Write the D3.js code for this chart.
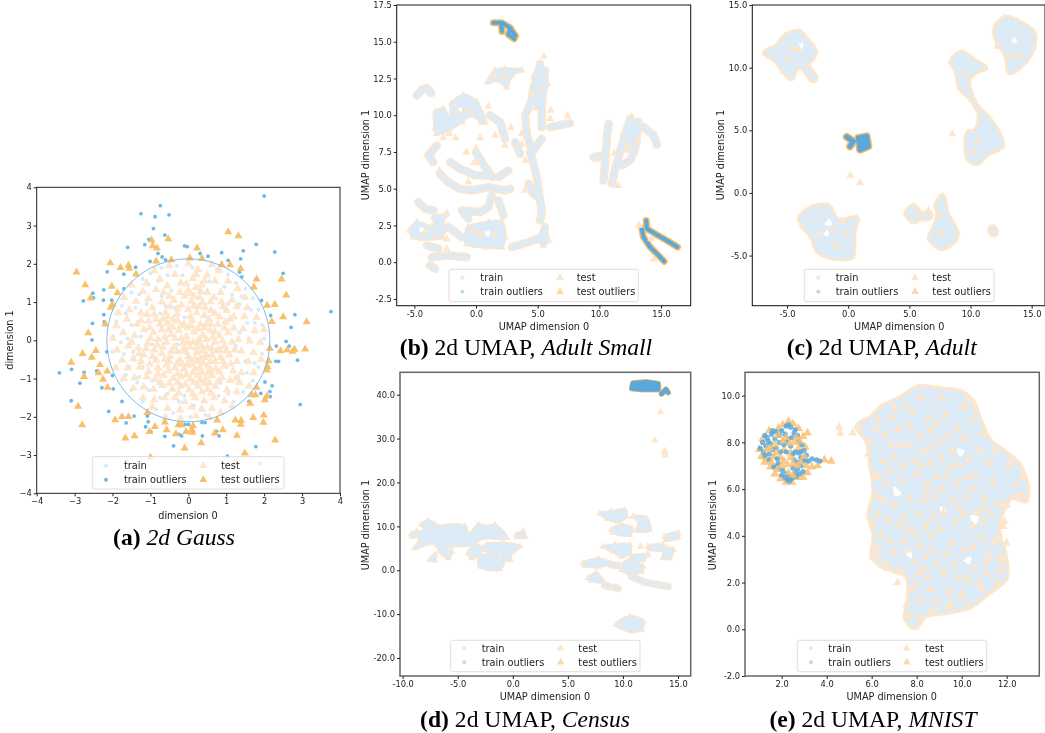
<!DOCTYPE html>
<html>
<head>
<meta charset="utf-8">
<script src="https://cdn.jsdelivr.net/npm/d3@7"></script>
<style>
body { margin: 0; background: #fff; }
text { font-family: "DejaVu Sans", sans-serif; fill: #222; }
.caption { font-family: "Liberation Serif", serif; font-size: 23.6px; fill: #000; }
</style>
</head>
<body>
<svg id="fig" width="1045" height="733"></svg>
<script>
// all values below.
// the dense umap clouds hold too many points to read one by one, so their cores are
// kept as outlines (blobs, strands, gaps) and only the visible single points are listed.
var legendLabels = ["train", "train outliers", "test", "test outliers"];

var gaussRadius = 2.15;
var gaussTrainOutliers = [[2,3.77],[-0.74,3.52],[-1.25,3.31],[-0.88,3.23],[-0.51,3.28],[-0.92,2.92],[-0.62,2.75],[-1.04,2.64],[-1.15,2.5],[-1.6,2.43],[-0.8,2.27],[-0.69,2.18],[-0.6,2.1],[-0.1,2.47],[-0.03,2.45],[0.31,2.27],[0.52,2.2],[0.88,2.29],[1.05,2.09],[1.38,2.13],[1.45,2.34],[1.79,2.51],[2.28,2.31],[2.5,1.75],[1.35,1.78],[1.41,1.66],[-2.14,1.79],[-1.7,1.73],[-1.39,1.91],[-1.01,2.06],[-2.23,1.32],[-2.52,1.23],[-2.5,1.11],[-2.77,1.03],[-2.24,1.05],[-2.02,1.05],[-1.7,1.35],[-2.23,0.67],[-2.22,0.48],[-2.53,0.44],[-2.54,0.01],[-2.15,-0.3],[3.76,0.75],[2.81,0.67],[2.71,0.34],[2.17,0.65],[1.93,1.04],[2.58,-0.03],[2.66,-0.15],[2.32,-0.15],[2.88,-0.52],[2.31,-0.55],[2.38,-0.55],[2.95,-1.68],[-3.4,-0.85],[-3.08,-0.76],[-2.75,-0.84],[-2.86,-1.12],[-2.42,-0.8],[-2.28,-1.24],[-1.98,-1.27],[-2,-0.92],[-3.09,-1.58],[-1.75,-1.6],[-2.1,-1.86],[-1.43,-1.98],[-1.64,-2.16],[-1.13,-2.26],[-1.06,-2.13],[-1.08,-1.98],[-0.99,-2.39],[-0.62,-2.51],[-0.25,-2.46],[-0.18,-2.5],[-0.39,-2.76],[0.37,-2.5],[0.36,-2.15],[0.44,-2.15],[0.74,-2.38],[0.81,-2.5],[-0.09,-2.2],[0,-2.2],[1.78,-2.78],[1.03,-3.03],[1.89,-3.22],[-1.63,-3.15],[2.02,-1.52],[2.16,-1.47],[1.91,-1.39],[2.15,-1.34],[2.21,-1.19],[2.02,-1.09],[1.6,-1.6]];
var gaussTestOutliers = [[1.05,2.83],[1.32,2.73],[-0.97,2.62],[-0.53,2.65],[-0.94,2.47],[-0.83,2.41],[0.23,2.41],[-0.85,2.07],[-0.45,2.1],[0.04,2.15],[0.36,2.14],[0.88,1.98],[1.1,1.97],[1.38,1.87],[1.8,1.6],[1.73,1.39],[2.46,1.6],[2.58,1.18],[2.08,0.91],[2.28,0.93],[2.5,0.61],[2.2,0.49],[3.12,0.48],[3.08,-0.23],[2.8,-0.24],[2.75,-0.29],[2.61,-0.25],[2.43,-0.28],[2.15,-0.21],[2.12,-0.54],[2.09,-0.69],[2.07,-0.78],[1.8,-1.23],[1.67,-1.43],[1.77,-1.43],[2.07,-1.46],[2.02,-1.56],[1.63,-1.65],[1.71,-2.02],[1.99,-1.96],[1.98,-2.15],[1.24,-2.09],[1.39,-2.1],[1.38,-2.2],[0.76,-2.09],[0.91,-2.34],[0.7,-2.43],[1.28,-2.49],[2.29,-2.61],[1.49,-2.95],[0.34,-2.68],[-0.1,-2.82],[0.12,-2.23],[0.09,-2.34],[0.11,-2.41],[-0.06,-2.39],[-0.26,-2.21],[-0.18,-2.21],[-0.57,-2.34],[-0.62,-2.14],[-0.33,-2.45],[-0.88,-2.26],[-1.03,-2.39],[-1.08,-1.89],[-1.42,-2.5],[-1.66,-2.56],[-1.93,-2.08],[-1.75,-2],[-1.58,-2],[-2.8,-2.21],[-2.91,-1.73],[-2.13,-1.23],[-2.25,-1.02],[-2.37,-0.85],[-2.14,-0.81],[-2.33,-0.64],[-2.75,-0.95],[-3.09,-0.58],[-2.79,-0.35],[-2.55,-0.45],[-2.44,-0.27],[-2.64,0.19],[-2.19,0.42],[-2.05,0.86],[-2,0.93],[-1.87,1.24],[-2.58,1.1],[-2.72,1.45],[-2.02,1.41],[-2.95,1.78],[-2.06,2.02],[-1.79,1.9],[-1.58,1.96],[-1.56,1.88],[-1.38,1.73],[-1,-3.06],[1.23,-3.19]];
var gaussTrain = [[-1.2,1.6],[-1,1.75],[-0.7,1.9],[-0.3,1.95],[0.1,1.9],[0.75,1.85],[1.05,1.72],[1.25,1.5],[1.5,1.35],[1.7,1.1],[1.85,0.8],[1.95,0.4],[2,0.05],[1.95,-0.35],[1.85,-0.7],[1.7,-1.05],[1.45,-1.35],[1.2,-1.6],[0.85,-1.85],[0.45,-1.95],[0.05,-2],[-0.4,-1.9],[-0.85,-1.8],[-1.2,-1.6],[-1.5,-1.3],[-1.75,-1.05],[-1.9,-0.7],[-2,-0.3],[-1.98,0.1],[-1.9,0.5],[-1.75,0.9],[-1.5,1.25],[-1.3,1.2],[-1.05,1.45],[-0.7,1.15],[-0.45,1.3],[-0.6,0.9],[-1.5,0.4],[-1.6,0.05],[-1.45,-0.3],[-1.2,-0.7],[-0.75,0.7],[-0.35,0.85],[-0.1,0.6],[-0.25,-0.3],[-0.05,-0.35],[-0.3,-0.1],[1.55,0.45],[1.6,0.05],[1.5,-0.55],[1.55,-0.85],[0.85,-1.1],[0.8,-1.45],[-0.55,-1.4],[-0.25,-1.6],[1.15,1.2],[0.95,1.4],[1.35,0.95],[-1.35,-1.1],[-1.05,-1.3],[1.25,-0.15],[1.35,0.2],[-1.25,0.1],[-0.95,-0.1],[0.55,1.55],[-1.65,0.7],[-1.4,0.85],[-1.1,0.95],[-1.78,-0.05],[-1.7,-0.35],[-1.55,-0.7],[-1.3,-0.95],[-0.95,-1.05],[-0.75,-1.5],[-0.1,-1.45],[0.15,-1.7],[1.05,-1.4],[1.3,-0.95],[1.75,-0.6],[1.75,0.45],[1.65,0.8],[1.05,0.95],[-0.8,1.55],[-0.55,1.7],[-1.65,-0.9],[1.4,1.15],[-0.15,1.7]];
var gaussTest = [[-0.5,1.95],[0,2],[0.25,1.85],[0.62,1.98],[0.82,1.82],[-0.9,1.82],[-0.35,1.72],[0.12,1.62],[0.5,1.7],[-1.1,1.5],[-0.75,1.6],[-0.2,1.5],[0.35,1.45],[0.7,1.55],[1.05,1.55],[1.3,1.35],[-1.5,1.45],[-1.2,1.28],[-0.85,1.32],[-0.55,1.42],[0,1.3],[0.2,1.38],[0.5,1.25],[0.85,1.25],[1.15,1.05],[1.5,1.12],[-1.7,1.12],[-1.38,1.02],[-1.05,1.08],[-0.7,1],[-0.38,1.05],[-0.1,1.15],[0.08,1.02],[0.3,1.12],[0.58,1],[0.88,1],[1.28,0.88],[1.55,0.85],[-1.85,0.72],[-1.55,0.8],[-1.25,0.72],[-0.95,0.85],[-0.6,0.72],[-0.3,0.68],[0,0.8],[0.22,0.72],[0.45,0.85],[0.7,0.7],[1,0.78],[1.2,0.62],[1.48,0.62],[1.8,0.6],[-1.9,0.38],[-1.62,0.55],[-1.35,0.42],[-1.05,0.5],[-0.85,0.55],[-0.55,0.45],[-0.4,0.55],[-0.12,0.42],[0.1,0.52],[0.32,0.42],[0.55,0.55],[0.78,0.42],[0.98,0.48],[1.2,0.32],[1.45,0.3],[1.75,0.25],[2,0.28],[-2,0.05],[-1.72,0.2],[-1.42,0.12],[-1.18,0.28],[-0.92,0.2],[-0.7,0.28],[-0.45,0.15],[-0.25,0.25],[-0.05,0.1],[0.15,0.22],[0.38,0.12],[0.58,0.25],[0.82,0.12],[1.05,0.2],[1.32,0.02],[1.62,-0.02],[1.9,-0.05],[-1.88,-0.25],[-1.58,-0.15],[-1.32,-0.2],[-1.08,-0.08],[-0.82,-0.12],[-0.58,-0.05],[-0.38,-0.18],[-0.15,-0.08],[0.05,-0.18],[0.28,-0.05],[0.5,-0.18],[0.7,-0.05],[0.95,-0.15],[1.15,-0.05],[1.4,-0.28],[1.72,-0.32],[-1.75,-0.52],[-1.45,-0.48],[-1.18,-0.38],[-0.95,-0.42],[-0.7,-0.35],[-0.48,-0.42],[-0.22,-0.52],[0,-0.42],[0.22,-0.32],[0.42,-0.45],[0.62,-0.38],[0.85,-0.45],[1.08,-0.38],[1.28,-0.55],[1.58,-0.55],[1.92,-0.5],[-1.92,-0.72],[-1.6,-0.72],[-1.28,-0.7],[-1.02,-0.62],[-0.8,-0.72],[-0.58,-0.65],[-0.35,-0.72],[-0.12,-0.75],[0.1,-0.62],[0.3,-0.72],[0.52,-0.68],[0.72,-0.75],[0.95,-0.68],[1.18,-0.8],[1.4,-0.85],[1.72,-0.85],[-1.7,-1],[-1.42,-0.98],[-1.1,-0.95],[-0.88,-1.02],[-0.65,-0.92],[-0.4,-1],[-0.18,-0.95],[0.05,-1.02],[0.25,-0.92],[0.45,-1],[0.62,-0.92],[0.88,-0.98],[1.1,-1.05],[1.35,-1.1],[1.6,-1.2],[-1.45,-1.25],[-1.18,-1.22],[-0.92,-1.28],[-0.68,-1.18],[-0.42,-1.28],[-0.2,-1.2],[0.02,-1.3],[0.25,-1.2],[0.5,-1.28],[0.72,-1.2],[1.02,-1.3],[1.28,-1.35],[-1.2,-1.5],[-0.9,-1.55],[-0.62,-1.5],[-0.35,-1.5],[-0.1,-1.6],[0.18,-1.5],[0.42,-1.58],[0.68,-1.5],[0.95,-1.58],[1.15,-1.72],[-0.95,-1.75],[-0.55,-1.78],[-0.22,-1.82],[0.08,-1.75],[0.35,-1.8],[0.62,-1.78],[0.85,-1.9],[-0.6,-2.02],[-0.2,-2.05],[0.2,-1.98],[0.55,-2.02],[-0.2,0.38],[0.25,0.3],[0.05,0.62],[-0.28,0.82],[0.15,0.9],[0.42,0.65],[-0.08,-0.28],[0.18,-0.48],[0.38,-0.28],[0.58,-0.55],[-0.3,-0.3],[0.12,-0.85],[0.35,-0.85],[0.52,-0.85],[-0.15,-0.62],[0.05,-0.5],[0.28,0.02],[0.48,0.02],[-0.02,0.32],[0.7,0.22],[-0.55,0.62],[-0.75,0.42],[-0.62,0.08],[0.62,-0.22],[0.82,-0.25],[0.42,-1.12],[0.15,-1.1],[-0.5,-0.55],[-0.42,0.35],[0.05,1.22],[0.32,1.28],[0.38,0.98],[-0.25,-1.38],[-1.1,0.68],[-0.9,0.68],[-0.48,0.88],[-0.18,0.92],[0.28,0.88],[0.6,0.78],[0.82,0.62],[-1.25,0.52],[-0.68,0.55],[-0.28,0.5],[0.48,0.42],[0.95,0.32],[-1,0.05],[-0.8,0.02],[-0.52,0.28],[-0.18,0.05],[0.08,0.38],[0.42,0.32],[0.65,0.08],[0.9,-0.02],[-1.12,-0.22],[-0.9,-0.25],[-0.68,-0.18],[-0.45,-0.28],[-0.12,-0.22],[0.12,-0.05],[0.35,-0.15],[0.75,-0.28],[1,-0.28],[-1.05,-0.82],[-0.85,-0.52],[-0.62,-0.5],[-0.3,-0.6],[-0.02,-0.65],[0.25,-0.55],[0.48,-0.38],[0.7,-0.55],[0.92,-0.55],[-0.8,-0.88],[-0.52,-0.8],[-0.28,-0.88],[-0.05,-0.9],[0.18,-0.75],[0.4,-0.6],[0.6,-0.78],[0.82,-0.82],[-0.75,-1.1],[-0.5,-1.12],[-0.28,-1.1],[-0.08,-1.15],[0.3,-1.05],[0.55,-1.12],[0.78,-1.08],[0.12,-1.4],[0.35,-1.35],[0.6,-1.38],[-0.5,1.15],[-0.22,1.25],[0.15,1.15],[0.68,1.12],[0.42,1.55],[0.2,1.72],[-0.05,1.48],[-0.65,1.25],[0.92,0.88],[1.1,0.55],[-1.02,0.32],[-1.5,-0.05],[-1.25,-0.55],[1.22,-0.25],[1.25,-1],[-1.3,-0.35],[1.12,-0.62],[-0.35,0.05],[0.6,0.42],[0.22,-0.2],[0.32,-0.48],[-0.02,-0.05]];

var adultSmallBlobs = [[[0.95,12.25],[1.54,13.05],[2.35,13.16],[3.71,13.05],[2.9,12.71],[2.49,11.91],[1.81,12.37]],[[4.65,12.6],[5.19,13.5],[5.6,13.05],[5.8,12.14],[5.46,11],[5.33,10.3],[4.9,10.5],[4.75,11.5]],[[-3.32,9.08],[-3.32,10.21],[-2.65,10.44],[-2.1,9.76],[-1.97,10.78],[-1.02,11.35],[0.06,10.89],[0.73,9.53],[0.46,9.53],[-0.35,9.99],[-1.16,9.53],[-2.24,8.96],[-3.19,8.74]],[[-5.35,2.16],[-4.81,2.73],[-3.59,2.39],[-2.51,2.39],[-2.78,1.7],[-4.4,1.59],[-5.08,1.7]],[[-3.46,3.07],[-2.51,3.18],[-3.05,2.27]],[[-0.62,2.39],[1,2.73],[2.08,2.73],[2.35,1.7],[2.08,1.03],[0.73,1.03],[-0.75,1.25],[-0.89,1.82]],[[5.06,1.48],[5.6,2.16],[5.87,1.48],[5.46,1.14]],[[11.95,8.85],[12.63,9.88],[12.9,8.63],[12.22,7.61]]];
var adultSmallStrands = [[[-4.81,11.35],[-4.4,11.73],[-3.99,11.87],[-3.65,11.5]],[[1.14,9.99],[1.95,9.53],[2.35,8.4]],[[5.19,13.5],[5.06,12.6],[4.65,11.91],[4.52,11],[3.98,9.99],[4.11,8.74],[4.38,7.94]],[[5.6,13.05],[5.46,12.14],[5.33,10.55],[5.33,9.19]],[[5.33,8.4],[4.65,7.6]],[[3.17,8.17],[3.57,7.38]],[[4.38,7.49],[4.65,6.7],[4.92,5.79],[5.19,4.2],[5.33,3.52],[5.19,2.84]],[[4.25,5.33],[4.65,4.65],[5.19,4.3]],[[6,9.19],[7.62,9.46]],[[-3.19,7.94],[-3.86,7.26],[-3.46,6.81]],[[-2.1,6.81],[-1.3,6.36],[-0.08,5.9],[1,5.9]],[[0,7.49],[0.73,6.47],[1.33,5.79]],[[-2.92,6],[-2.24,5.45],[-1.3,4.99],[-0.35,4.88],[1,5.11],[2.35,4.88],[2.76,4.99]],[[1.81,5.79],[2.62,6.24]],[[1.27,4.54],[1,3.75],[0.33,3.41],[-1.16,3.52],[-0.62,2.95]],[[1.81,4.2],[2.22,3.18]],[[-4.67,4.09],[-4.13,3.63],[-3.46,3.52]],[[-2.24,2.39],[-1.16,1.7]],[[2.9,1.03],[4.25,1.36],[5.33,1.7],[5.6,2.39]],[[-3.98,1.14],[-3.05,0.91]],[[-3.59,0.34],[-2.24,0.46],[-0.75,0.34]],[[-3.73,-0.22],[-3.32,-0.45]],[[10.74,9.42],[10.6,8.4],[10.47,6.81],[10.33,5.56]],[[12.49,9.76],[11.82,7.95],[11.28,6.36],[11,5.34]],[[13.17,9.54],[12.9,7.72],[12.49,6.93],[11.82,6.59]],[[13.57,9.2],[14.39,8.63],[14.66,7.99]],[[9.52,7.15],[10.2,7.27]]];
var adultSmallGaps = [[[-4.6,2.3],[-4.25,2.3],[-4.35,2.0]],[[0.7,2.0],[1.1,2.1],[1,1.75]],[[-1.45,10.45],[-1.15,10.45],[-1.3,10.15]]];
var adultSmallOutlierBands = [[[13.79,2.84],[13.84,2.27],[14.52,1.93],[15.47,1.48],[16.33,1.03]],[[13.44,2.27],[13.57,1.71],[14.11,1.03],[14.79,0.46],[15.25,0.05]],[[1.4,16.3],[2.1,16.3],[2.75,15.95],[3.2,15.4]],[[2.05,16.2],[2.1,15.7]],[[2.8,15.9],[2.6,15.5],[3.1,15.2]]];
var adultSmallTest = [[1,10.6],[6.06,10.33],[7.42,9.96],[6,9.76],[2.84,9.15],[3.71,8.74],[0.33,8.46],[1.54,8.62],[-2.65,8.46],[-2.19,8.74],[-1.65,8.46],[-0.75,7.49],[0,7.76],[-0.16,6.76],[2.35,7.94],[3.71,8.01],[3.98,6.92],[-2.97,6.24],[-0.8,7.49],[3.98,4.88],[-0.08,6.81],[-0.62,5.45],[-2.38,3.34],[-2.38,1.59],[-2.38,0.91],[5.5,14],[4.5,11.4],[5.1,11.7],[-1.5,10.2],[-0.6,10.3],[1.5,12.7],[2.2,12.6],[9.85,7],[11.5,5.2],[12.3,8],[13.1,8.3],[11.2,7.4],[14.4,0.2],[13.2,2.5],[14.2,1.6],[0.3,1.9],[1.5,1.8],[-0.2,2.2],[-4.1,2.1],[-3.2,1.85]];

var adultBlobs = [[[-6.8,11.18],[-5.85,11.71],[-5.16,12.51],[-3.94,12.85],[-3.53,12.37],[-2.71,11.31],[-3.26,10.38],[-4.21,9.98],[-4.62,9.18],[-5.3,9.71],[-5.98,10.65]],[[12,13.04],[12.82,13.97],[13.77,13.7],[15.14,12.78],[15.14,11.71],[14.46,10.5],[13.23,9.63],[12.96,10.9],[12.28,11.98]],[[8.46,10.5],[9.28,11.18],[10.37,10.5],[11.19,9.98],[10.5,9.71],[9.82,9.05],[9.96,8.11],[10.5,6.92],[11.46,5.98],[12.41,4.52],[12.55,3.72],[11.46,3.19],[10.5,2.39],[9.82,2.79],[9.82,4.79],[10.37,4.92],[10.78,6.12],[10.1,7.45],[9.14,8.38],[8.87,9.71]],[[-3.94,-2],[-2.98,-1.2],[-1.62,-1.07],[-0.94,-2.14],[0.01,-2.14],[0.69,-2],[0.42,-3.2],[0.29,-5.07],[-0.94,-5.2],[-2.44,-4.67],[-2.98,-3.47],[-3.66,-2.67]],[[4.78,-1.61],[5.33,-1.07],[5.87,-1.87],[5.33,-2.27]],[[7.23,-0.94],[7.7,-0.27],[8.05,-1.61],[8.87,-3.2],[8.73,-3.74],[7.64,-4.4],[6.69,-3.6],[7.1,-2.67],[7.37,-1.61]]];
var adultStrands = [[[-3.53,10.1],[-2.85,9.18]],[[5.87,-1.87],[6.55,-1.82]],[[11.81,-2.94],[11.9,-3.1]]];
var adultGaps = [[[-4,11.9],[-3.7,11.9],[-3.8,11.5]],[[13.4,12.1],[13.6,12.4],[13.75,12]],[[-1.9,-2.5],[-1.5,-2.1],[-1.4,-2.6]],[[-2,-3.3],[-1.7,-3],[-1.6,-3.4]]];
var adultOutlierBands = [[[0.83,4.39],[1.51,4.52],[1.65,3.72],[0.97,3.45],[0.83,4.39],[1.3,4]],[[-0.12,4.47],[0.42,4.12],[0.15,3.72]],[[0.95,3.9],[1.5,4.1]],[[1.05,4.3],[1.5,3.8]]];
var adultTest = [[8.5,4.7],[0.18,1.4],[0.97,0.8],[6.55,-1.4],[12.2,11.7],[-2.3,-3.3],[-4.6,11.5],[-4,11.4],[-5,10.7],[-1.2,-2.9],[-0.3,-3.2],[-1,-4.2],[-0.4,-2.3],[10.6,4.2],[10.2,3.3],[13.2,11],[14,10.9],[9.6,9.5],[7.6,-1.8],[7.5,-3.2],[5.6,-1.7]];

var censusBlobs = [[[-8.28,10.35],[-7.68,11.33],[-7.07,10.35],[-7.68,9.21]],[[-9.19,8.3],[-8.74,8.83],[-8.74,7.84],[-9.19,7.69]],[[-8.74,8.07],[-6.77,9.97],[-4.35,9.97],[-4.04,8.07],[-3.13,10.35],[-2.23,9.97],[-1.62,10.35],[-0.56,7.31],[-2.68,7.31],[-3.74,5.79],[-5.71,5.41],[-6.62,4.66],[-7.22,6.17],[-8.89,5.03],[-8.43,6.93]],[[-4.04,3.9],[-3.44,5.79],[-2.68,5.03],[-3.74,2.76]],[[-6.62,4.28],[-5.56,4.28],[-5.86,2.76]],[[-2.38,5.79],[-0.86,6.17],[0.65,5.41],[0.04,4.28],[-1.77,3.9],[-2.53,4.66]],[[-3.04,3.14],[-2.23,3.52],[-0.86,2.38],[-1.17,0.25],[-2.98,0.86]],[[-7.53,2.38],[-7.07,3.52],[-7.07,2.23]],[[-0.86,3.52],[-0.26,3.9],[-0.26,2.38],[-0.86,2.38]],[[0.35,8.07],[0.95,8.83],[1.1,7.69],[0.41,7.54]],[[7.9,13],[8.95,13.37],[10.16,13.75],[10.31,12.23],[9.56,11.09],[8.59,11.7]],[[8.95,9.2],[9.86,10.33],[10.77,9.58],[10.62,8.06],[9.1,8.59]],[[10.92,12.23],[12.13,11.85],[12.43,9.2],[11.22,9.04],[11.52,10.7]],[[8.2,5.4],[9.26,5.78],[10.62,5.78],[10.62,3.89],[9.86,3.13],[9.1,4.26]],[[12.28,5.4],[13.64,5.78],[13.64,4.64],[12.43,4.8]],[[13.79,7.68],[15,8.59],[15,7.45],[13.94,6.92]],[[13.94,5],[14.55,4.64],[14.24,2.75],[13.64,2.75]],[[6.38,1.6],[7.74,2.6],[8.95,1.6],[7.74,0.85],[6.54,1.08]],[[10.77,3.13],[12.28,3.51],[11.83,2.37],[10.92,1.99]],[[10.01,1.23],[10.62,2.37],[11.83,0.85],[11.67,-0.29],[10.62,-0.67],[9.86,0.09]],[[6.84,-1.82],[7.59,-0.67],[8.2,-2.57],[7.14,-2.42]],[[9.41,-12.43],[10.62,-10.53],[11.83,-11.67],[11.67,-13.57],[10.77,-13.95]]];
var censusStrands = [[[8.35,-3.4],[8.8,-3.8]],[[9.26,-3.9],[9.56,-4.2]],[[10.77,-1.43],[11.98,-2.72],[13.19,-3.32],[14.09,-3.7]],[[8.95,1.2],[9.56,1.1]]];
var censusOutlierBands = [[[10.8,41.4],[10.9,42.6],[12.1,42.9],[13.2,42.5],[13.2,41.2],[11.8,41.2],[10.8,41.4]],[[11,42],[13,42]],[[11,41.6],[13,41.7]],[[11,42.4],[13,42.4]],[[13.5,40.2],[13.9,41.2],[14.1,40.5]]];
var censusTest = [[13.4,36.1],[12.9,29.6],[13.8,27.2],[13.85,26.2],[11.6,5.4],[13.8,26.9]];

var mnistBlobs = [[[5.41,8.69],[6,9.04],[6.44,9.47],[7.33,9.9],[8.07,10.33],[8.96,10.26],[10,10.11],[10.44,9.76],[10.81,8.9],[11.19,8.11],[11.93,7.54],[12.52,7.04],[12.89,6.04],[12.81,5.54],[12.22,5.69],[11.85,5.19],[11.63,4.61],[11.63,4.04],[11.85,3.33],[11.93,2.19],[11.19,1.61],[10.3,0.97],[9.26,0.76],[8.37,0.61],[7.93,0.11],[7.56,0.47],[7.7,1.47],[7.56,2.33],[6.44,2.76],[6.07,3.11],[6.15,4.04],[5.93,4.9],[6.15,5.9],[6,7.04],[5.85,8.04]]];
var mnistGaps = [[[9.8,7.7],[10.1,7.65],[9.95,7.4]],[[10.1,2.95],[10.4,3.1],[10.35,2.8]],[[10.4,4.85],[10.75,4.8],[10.6,4.5]],[[9.05,5.25],[9.3,5.1],[9.15,4.9]],[[7,6.1],[7.3,5.8],[7.05,5.7]],[[7.55,3.2],[7.75,3.35],[7.75,3.05]]];
var mnistTest = [[4.55,8.65],[4.6,8.4],[5.15,8.4],[5.45,8.6],[5.9,8.0],[6.3,9.0],[7,9.5],[7.8,9.3],[8.5,9.0],[9.3,9.2],[10.3,9.8],[10.5,9.0],[8.1,8.3],[8.6,8.5],[9,8.0],[9.4,8.3],[9.8,8.6],[7.2,8.6],[7.6,7.9],[6.6,8.3],[6.5,7.2],[7,7.4],[7.9,7.2],[8.3,7.6],[8.6,7.1],[9.1,7.3],[9.9,7],[10.3,7.3],[10.8,7.6],[11.2,7.1],[10.6,6.6],[11.4,6.3],[12.1,7],[12.4,6.2],[12.7,5.7],[8,6.6],[8.5,6.2],[7.3,6.4],[6.6,6.3],[6.3,6.6],[9.3,6.6],[9.8,6.2],[10.2,5.7],[11,5.6],[11.6,5.4],[12,5.3],[7.7,5.6],[8.3,5.5],[8.8,5.7],[7,5.3],[6.5,5.5],[6.3,4.9],[6.7,4.7],[7.4,4.8],[8.1,4.9],[8.7,4.8],[9.2,5],[9.7,4.6],[10.1,4.9],[10.5,4.4],[10.9,4.6],[11.3,4.9],[11.9,4.6],[11.85,4.4],[6.4,4],[6.2,3.5],[6.1,3.1],[7,3.3],[7.6,3.4],[8.1,3.6],[7.9,4.1],[8.6,4],[9,4.3],[9.5,3.7],[10.1,3.4],[10.9,3.9],[11.4,3.7],[12,3.7],[11.7,3.1],[8.4,3.1],[8.9,2.8],[7.9,2.9],[7.1,2.5],[6.7,2.6],[8,1.9],[8.5,2.2],[9.2,2.4],[9.9,2.2],[10.3,2.1],[10.8,2],[11.1,2.4],[8.2,1.2],[8.9,1.2],[9.5,1.1],[10,1.5],[7.55,1.05],[7.15,2],[11.7,2.5],[10.2,6.5],[10.7,5],[6.2,8.6],[6.9,9.1],[7.5,9.6],[8.2,9.9],[9.1,9.9],[10.1,9.5],[5.85,7.5],[6.15,6.5],[6.25,5.7],[6.05,4.5],[6.3,3.3],[6.6,2.85],[7.3,2.45],[7.75,1.7],[7.7,0.6],[8.15,0.45],[8.7,0.85],[9.4,0.95],[10.2,1.15],[10.9,1.7],[11.6,2],[11.75,2.9],[11.6,3.9],[11.9,5.4],[12.5,5.75],[12.7,6.5],[12.2,7.25],[11.5,7.6],[10.9,8.4],[10.6,9.4],[7.7,8.7],[7.3,7.9],[8.9,8.8],[9.6,7.6],[10.1,8.2],[8.2,7],[8.9,6.5],[8.4,5.9],[9.1,6],[10.5,6],[9.6,5.5],[9.9,5.2],[8.4,4.4],[7.6,4.3],[7.2,4.5],[6.8,3.8],[7.4,3.8],[8.3,2.6],[8.7,3.4],[9.3,3.2],[9.7,2.8],[10.5,3.5],[11.2,3.2],[11.1,2.9],[10.6,2.6],[9.4,1.6],[8.6,1.7],[8.1,2.4],[11,5.2],[6.8,6.8],[7.4,7],[6.9,7.9],[8.6,7.8],[9.5,7]];
var mnistOutTrain = [[1.05,7.75],[1.15,8],[1.2,7.6],[1.3,7.85],[1.35,8.2],[1.45,7.5],[1.5,7.95],[1.55,8.35],[1.6,7.7],[1.7,8.15],[1.75,8.45],[1.8,7.3],[1.45,7.25],[1.9,8],[1.65,6.95],[1.9,6.85],[2,6.6],[2.15,6.5],[2.25,6.4],[2.35,6.5],[2.45,6.45],[2.6,6.7],[2.7,6.85],[2.85,7],[2.95,7.2],[2.85,7.35],[3.1,7.45],[3,7.65],[2.9,7.9],[2.75,8.05],[3.2,7.2],[3.35,7.3],[3.55,7.25],[3.7,7.2],[2.6,7.6],[2.4,7.85],[2.2,8.7],[2.3,8.75],[2.4,8.65],[2.55,8.4],[2.15,8.35],[2,8.5],[2.7,8.3],[2.3,8.15],[2.1,7.9],[1.95,7.6],[1.85,7.1],[2.95,6.75],[2.5,6.9],[2.7,7.15],[1.25,8.3],[1.6,8.5],[2.45,8.2],[2.05,6.8],[2.65,6.55],[2.75,7.55],[2.2,7.6],[2.5,7.5],[2.2,8],[1.75,7.75],[1.25,7.45],[1.4,8.05],[1.9,8.3],[2.6,8.55],[2.85,7.6],[3.05,7.25],[2.8,6.65],[2.2,6.65],[1.75,7],[2.35,6.35],[2.55,7.25]];
var mnistOutTest = [[1,7.7],[1.1,7.4],[1.25,7.15],[1.5,6.95],[1.7,6.65],[1.95,6.45],[2.2,6.3],[2.45,6.3],[2.7,6.5],[2.95,6.5],[3.15,6.7],[3.1,7],[3.35,6.95],[3.6,7],[4.2,7.2],[3.9,7.25],[3.05,7.8],[2.95,8.25],[3.15,8.4],[2.75,8.6],[2.5,8.8],[2.3,8.9],[2.05,8.75],[1.85,8.6],[1.45,8.5],[1.15,8.15],[1.3,7.35],[1.65,7.4],[1.95,7.35],[2.1,7.65],[2.4,7.55],[2.75,7.75],[2.55,8],[2.2,8.2],[1.85,8.3],[1.7,7.9],[2,7],[2.3,6.7],[2.7,7],[2.35,7.95],[2.65,8.2],[1.55,7.15],[1.8,6.85],[2.5,6.6],[2.85,7.15],[3,7.4],[1.35,7.7],[1.75,7.55],[2.1,7.2],[2.5,7.1],[2.25,7.05],[2.4,7.35],[2.05,8.05],[2.8,8.05],[1.5,7.75]];
var mnistTrain = [[5.3,8.65],[6.05,6.2],[7.6,0.65],[10.9,6.9],[11.5,4.5],[9.2,2.6],[10.4,4.4]];

var panels = [
	{caption: ["(a)", "", "2d Gauss"], capX: 174, capY: 545, left: 36.7, right: 340, top: 187.3, bottom: 493.3,
	 xd: [-4,4], yd: [-4,4], xt: [-4,-3,-2,-1,0,1,2,3,4], yt: [-4,-3,-2,-1,0,1,2,3,4], fmt: "int",
	 xl: "dimension 0", yl: "dimension 1", xlX: 188, xlY: 519, ylX: 13, ylY: 340, frame: ["#222", 1], tsize: 34,
	 box: [92.3,456.7,191.7,32.3], mk: [106,203.3], tx: [124,221], rows: [465.7,479.7], gauss: true},
	{caption: ["(b)", " 2d UMAP, ", "Adult Small"], capX: 526, capY: 355, left: 396.7, right: 690.7, top: 5, bottom: 305.7,
	 xd: [-6.43,17.4], yd: [-2.96,17.5], xt: [-5,0,5,10,15], yt: [-2.5,0,2.5,5,7.5,10,12.5,15,17.5], fmt: ".1f",
	 xl: "UMAP dimension 0", yl: "UMAP dimension 1", xlX: 544, xlY: 330, ylX: 369, ylY: 155, frame: ["#111", 1], tsize: 28,
	 box: [449,269.3,189.3,32.4], mk: [462.3,560], tx: [480.3,576.7], rows: [277.7,291.7], halo: 3, sw: 5.5, band: [7,4],
	 blobs: adultSmallBlobs, strands: adultSmallStrands, bands: adultSmallOutlierBands, test: adultSmallTest, gaps: adultSmallGaps},
	{caption: ["(c)", " 2d UMAP, ", "Adult"], capX: 881.7, capY: 355, left: 752.3, right: 1045, top: 5, bottom: 305.7,
	 xd: [-7.84,16.09], yd: [-9,15], xt: [-5,0,5,10,15], yt: [-5,0,5,10,15], fmt: ".1f",
	 xl: "UMAP dimension 0", yl: "UMAP dimension 1", xlX: 899.3, xlY: 330, ylX: 724, ylY: 155, frame: ["#111", 1], tsize: 28,
	 box: [804.3,269.3,189.7,32.4], mk: [818.3,915], tx: [835.7,932.3], rows: [277.7,291.7], halo: 6, sw: 5, band: [8,5],
	 blobs: adultBlobs, strands: adultStrands, bands: adultOutlierBands, test: adultTest, gaps: adultGaps},
	{caption: ["(d)", " 2d UMAP, ", "Census"], capX: 525, capY: 727, left: 400, right: 690.7, top: 372.3, bottom: 676,
	 xd: [-10.24,16.15], yd: [-24.1,45.1], xt: [-10,-5,0,5,10,15], yt: [-20,-10,0,10,20,30,40], fmt: ".1f",
	 xl: "UMAP dimension 0", yl: "UMAP dimension 1", xlX: 545, xlY: 700, ylX: 369, ylY: 525, frame: ["#666", 1.5], tsize: 24,
	 box: [450.7,640.3,189.3,31.4], mk: [464.3,560.7], tx: [481.7,578.3], rows: [648.3,662.3], halo: 3, sw: 4.5, band: [6,4.5],
	 blobs: censusBlobs, strands: censusStrands, bands: censusOutlierBands, test: censusTest},
	{caption: ["(e)", " 2d UMAP, ", "MNIST"], capX: 873, capY: 727, left: 745, right: 1039.3, top: 372.3, bottom: 676,
	 xd: [0.37,13.45], yd: [-2,11], xt: [2,4,6,8,10,12], yt: [-2,0,2,4,6,8,10], fmt: ".1f",
	 xl: "UMAP dimension 0", yl: "UMAP dimension 1", xlX: 891.7, xlY: 700, ylX: 716, ylY: 525, frame: ["#666", 1.5], tsize: 34,
	 box: [797.3,640.3,189.4,31.4], mk: [811,906.7], tx: [828.3,925], rows: [648.3,662.3], halo: 7, sw: 4, band: [8,5],
	 blobs: mnistBlobs, strands: [], bands: [], test: mnistTest, gaps: mnistGaps,
	 outTrain: mnistOutTrain, outTest: mnistOutTest, train: mnistTrain}
];

var trainColor = "#dcebf6", testColor = "#fde6cc";
var legendTri = d3.symbol().type(d3.symbolTriangle).size(26);
var svg = d3.select("#fig");
// the reference is a soft raster, so everything but the captions gets a slight blur
svg.append("filter").attr("id", "soft").attr("x", "0").attr("y", "0").attr("width", "100%").attr("height", "100%")
	.attr("filterUnits", "userSpaceOnUse")
	.append("feGaussianBlur").attr("stdDeviation", 0.35);
var root = svg.append("g").attr("filter", "url(#soft)");
var capLayer = svg.append("g");

function drawPanel(p, i) {
	var x = d3.scaleLinear().domain(p.xd).range([p.left, p.right]);
	var y = d3.scaleLinear().domain(p.yd).range([p.bottom, p.top]);
	var line = d3.line().x(function(d) { return x(d[0]); }).y(function(d) { return y(d[1]); });
	var closed = d3.line().x(function(d) { return x(d[0]); }).y(function(d) { return y(d[1]); }).curve(d3.curveCatmullRomClosed);
	var tri = d3.symbol().type(d3.symbolTriangle).size(p.tsize);

	svg.append("clipPath").attr("id", "clip" + i).append("rect")
	.attr("x", p.left).attr("y", p.top).attr("width", p.right - p.left).attr("height", p.bottom - p.top);
	var g = root.append("g").attr("clip-path", "url(#clip" + i + ")");

	function dots(data, color, r, op) {
		g.append("g").selectAll("circle").data(data).enter().append("circle")
		.attr("cx", function(d) { return x(d[0]); })
		.attr("cy", function(d) { return y(d[1]); })
		.attr("r", r).attr("fill", color).attr("opacity", op);
	}
	function tris(data, color, op) {
		g.append("g").selectAll("path").data(data).enter().append("path")
		.attr("d", tri)
		.attr("transform", function(d) { return "translate(" + x(d[0]) + "," + y(d[1]) + ")"; })
		.attr("fill", color).attr("opacity", op);
	}
	function shapes(data, gen, fill, color, w) {
		g.append("g").selectAll("path").data(data).enter().append("path")
		.attr("d", gen)
		.attr("fill", fill).attr("stroke", color).attr("stroke-width", w)
		.attr("stroke-linejoin", "round").attr("stroke-linecap", "round");
	}

	if (p.gauss) {
		dots(gaussTrain, "#d5e8f6", 2, 0.9);
		dots(gaussTrainOutliers, "#6db8ea", 1.9, 1);
		tris(gaussTest, "#fde3c6", 0.9);
		tri.size(28);
		tris(gaussTestOutliers, "#f8bd62", 0.95);
		g.append("circle").attr("cx", x(0)).attr("cy", y(0))
		.attr("r", x(gaussRadius) - x(0))
		.attr("fill", "none").attr("stroke", "#7dbde8").attr("stroke-width", 1);
	} else {
		// test halo first, train core on top
		shapes(p.blobs, closed, testColor, testColor, p.halo);
		shapes(p.strands, line, "none", testColor, p.sw + p.halo);
		p.blobs.concat(p.strands).forEach(function(s) { tris(s, testColor, 1); });
		shapes(p.blobs, closed, trainColor, trainColor, 1);
		shapes(p.strands, line, "none", trainColor, p.sw);
		if (p.gaps) shapes(p.gaps, closed, "#fff", "#fff", 1);
		shapes(p.bands, line, "none", "#f8bd62", p.band[0]);
		shapes(p.bands, line, "none", "#5aa8dc", p.band[1]);
		if (p.outTest) tris(p.outTest.slice(0, 32), "#f8c070", 0.85);
		if (p.outTrain) dots(p.outTrain, "#5aa8dc", 2.6, 0.85);
		if (p.outTest) tris(p.outTest.slice(32), "#f8c070", 0.8);
		if (p.train) dots(p.train, trainColor, 2, 1);
		tris(p.test, testColor, 1);
	}

	// frame and axes
	root.append("rect").attr("x", p.left).attr("y", p.top)
	.attr("width", p.right - p.left).attr("height", p.bottom - p.top)
	.attr("fill", "none").attr("stroke", p.frame[0]).attr("stroke-width", p.frame[1]);

	var fx = p.fmt == "int"
		? function(d) { return d3.format("d")(d).replace("-", "\u2212"); }
		: function(d) { return d3.format(".1f")(d).replace("\u2212", "-"); };
	var ax = d3.axisBottom(x).tickValues(p.xt).tickFormat(fx).tickSize(3).tickPadding(2);
	var ay = d3.axisLeft(y).tickValues(p.yt).tickFormat(fx).tickSize(3).tickPadding(2);
	var gx = root.append("g").attr("transform", "translate(0," + p.bottom + ")").call(ax);
	var gy = root.append("g").attr("transform", "translate(" + p.left + ",0)").call(ay);
	[gx, gy].forEach(function(a) {
		a.select(".domain").remove();
		a.selectAll("text").style("font-size", "8.3px").style("font-family", "DejaVu Sans");
		a.selectAll("line").attr("stroke", "#222");
	});

	root.append("text").attr("x", p.xlX).attr("y", p.xlY).attr("text-anchor", "middle")
	.style("font-size", "9.7px").text(p.xl);
	root.append("text").attr("transform", "translate(" + p.ylX + "," + p.ylY + ") rotate(-90)")
	.attr("text-anchor", "middle").style("font-size", "9.7px").text(p.yl);

	// legend
	root.append("rect").attr("x", p.box[0]).attr("y", p.box[1]).attr("width", p.box[2]).attr("height", p.box[3])
	.attr("rx", 2).attr("fill", "#fff").attr("fill-opacity", 0.8).attr("stroke", "#d4d4d4").attr("stroke-width", 0.8);
	var dotA = p.gauss ? "#d5e8f6" : trainColor;
	var dotB = p.gauss ? "#6db8ea" : "#b9dcf2";
	var triB = p.gauss ? "#f8bd62" : "#fdd9aa";
	var keys = [
		{col: 0, row: 0, color: dotA, kind: "dot"},
		{col: 0, row: 1, color: dotB, kind: "dot"},
		{col: 1, row: 0, color: testColor, kind: "tri"},
		{col: 1, row: 1, color: triB, kind: "tri"}
	];
	keys.forEach(function(k, j) {
		if (k.kind == "dot") {
			root.append("circle").attr("cx", p.mk[k.col]).attr("cy", p.rows[k.row]).attr("r", 2).attr("fill", k.color);
		} else {
			root.append("path").attr("d", legendTri)
			.attr("transform", "translate(" + p.mk[k.col] + "," + p.rows[k.row] + ")").attr("fill", k.color);
		}
		root.append("text").attr("x", p.tx[k.col]).attr("y", p.rows[k.row] + 3.3)
		.style("font-size", "9.8px").text(legendLabels[j]);
	});

	// caption
	var cap = capLayer.append("text").attr("class", "caption").attr("x", p.capX).attr("y", p.capY).attr("text-anchor", "middle");
	cap.append("tspan").attr("font-weight", "bold").text(p.caption[0]);
	cap.append("tspan").text(p.caption[1] || " ");
	cap.append("tspan").attr("font-style", "italic").text(p.caption[2]);
}

panels.forEach(drawPanel);
</script>
</body>
</html>
